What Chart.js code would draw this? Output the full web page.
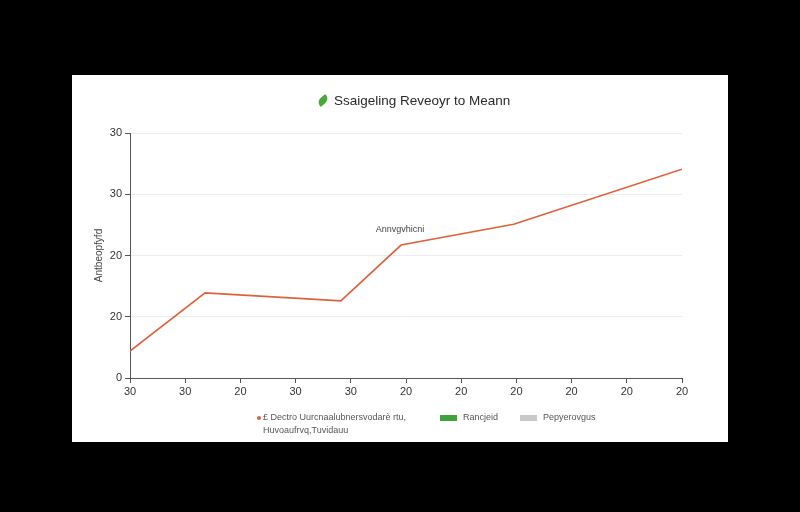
<!DOCTYPE html>
<html><head><meta charset="utf-8">
<script src="https://cdn.jsdelivr.net/npm/chart.js@4/dist/chart.umd.min.js"></script>
<style>
html,body{margin:0;padding:0;background:#000;width:800px;height:512px;overflow:hidden;font-family:"Liberation Sans",Arial,sans-serif;}
#panel{position:absolute;left:72px;top:75px;width:656px;height:367px;background:#fff;}
#c{position:absolute;left:0;top:0;}
#title{position:absolute;left:245px;top:18px;font-size:13.5px;color:#2a2a2a;white-space:nowrap;}
#title .leaf{display:inline-block;width:12px;height:7px;background:#4aa83a;border-radius:7px 1px 7px 1px;transform:rotate(-40deg);margin-right:5px;vertical-align:1px;}
.lg{position:absolute;font-size:9px;color:#555;line-height:13px;white-space:nowrap;}
.sw{position:absolute;}
</style></head>
<body>
<div id="panel">
<canvas id="c" width="656" height="367"></canvas>
<div id="title"><span class="leaf"></span>Ssaigeling Reveoyr to Meann</div>
<div class="sw" style="left:185px;top:341px;width:4px;height:4px;border-radius:2px;background:#e0603a"></div>
<div class="lg" style="left:191px;top:336px;">£ Dectro Uurcnaalubnersvodarè rtu,<br>Huvoaufrvq,Tuvidauu</div>
<div class="sw" style="left:368px;top:340px;width:17px;height:6px;background:#3ea33a"></div>
<div class="lg" style="left:391px;top:336px;">Rancjeid</div>
<div class="sw" style="left:448px;top:340px;width:17px;height:6px;background:#c8c8c8"></div>
<div class="lg" style="left:471px;top:336px;">Pepyerovgus</div>
</div>
<script>
const xTickLabels = ["30","30","20","30","30","20","20","20","20","20","20"];
const yTickLabels = ["0","20","20","30","30"];
const seriesX = [0, 1.36, 3.82, 4.91, 6.95, 10];
const seriesY = [4.4, 13.9, 12.6, 21.7, 25.1, 34.1];
const annotations = [{x: 4.89, y: 24.3, text: "Annvgvhicni"}];
const yAxisTitle = "Antbeopfyfd";

const pts = seriesX.map((x, i) => ({x, y: seriesY[i]}));

const annPlugin = {
  id: 'ann',
  afterDatasetsDraw(chart) {
    const {ctx, scales} = chart;
    ctx.save();
    ctx.font = '9px "Liberation Sans", Arial, sans-serif';
    ctx.fillStyle = '#444';
    ctx.textAlign = 'center';
    ctx.textBaseline = 'middle';
    annotations.forEach(a => {
      ctx.fillText(a.text, scales.x.getPixelForValue(a.x), scales.y.getPixelForValue(a.y));
    });
    ctx.restore();
  }
};

new Chart(document.getElementById('c'), {
  type: 'line',
  data: { datasets: [{
    data: pts, borderColor: '#e0603a', borderWidth: 1.6, pointRadius: 0, tension: 0, fill: false
  }]},
  options: {
    responsive: false, animation: false,
    layout: { padding: { top: 58, right: 46, bottom: 0, left: 0 } },
    plugins: { legend: { display: false }, tooltip: { enabled: false } },
    scales: {
      x: {
        type: 'linear', min: 0, max: 10,
        afterFit(s) { s.height = 64; },
        afterBuildTicks(s) { s.ticks = xTickLabels.map((_, i) => ({value: i})); },
        ticks: { autoSkip: false, maxRotation: 0, color: '#333', font: {size: 11, family: '"Liberation Sans", Arial'}, padding: 2,
          callback: (v, i) => xTickLabels[i] },
        grid: { display: true, drawOnChartArea: false, drawTicks: true, tickLength: 5, color: '#555' },
        border: { color: '#555', width: 1 }
      },
      y: {
        type: 'linear', min: 0, max: 40,
        afterFit(s) { s.width = 58; },
        afterBuildTicks(s) { s.ticks = yTickLabels.map((_, i) => ({value: i * 10})); },
        ticks: { autoSkip: false, color: '#333', font: {size: 11, family: '"Liberation Sans", Arial'}, padding: 3,
          callback: (v, i) => yTickLabels[i] },
        grid: { color: '#ececec', tickLength: 5, tickColor: '#555' },
        border: { color: '#555', width: 1 },
        title: { display: true, text: yAxisTitle, color: '#444', font: {size: 10, family: '"Liberation Sans", Arial'}, padding: {top: 21, bottom: 0} }
      }
    }
  },
  plugins: [annPlugin]
});
</script>
</body></html>
